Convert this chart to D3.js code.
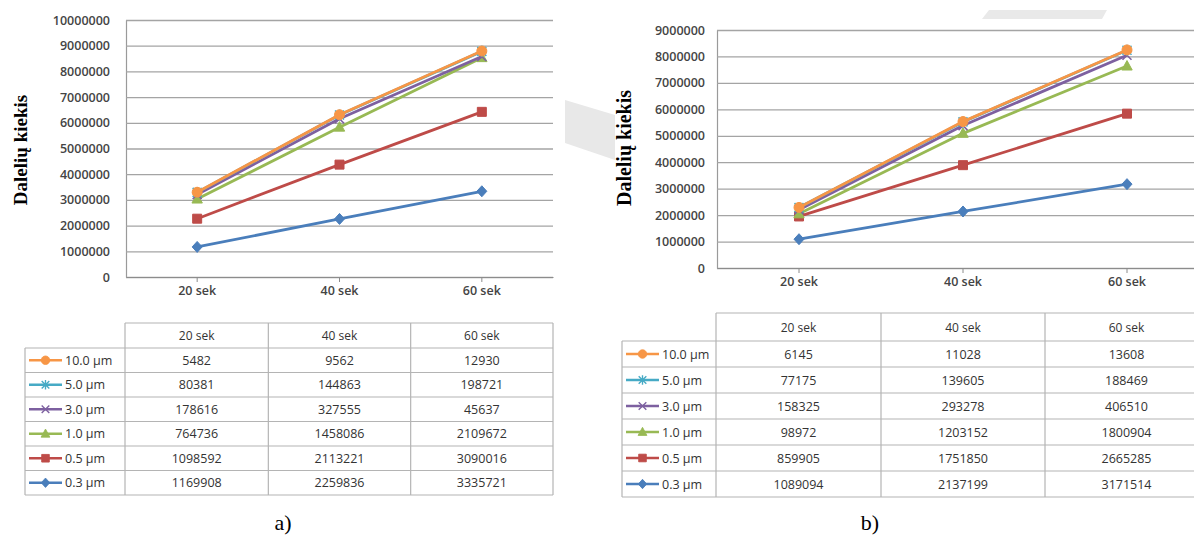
<!DOCTYPE html>
<html>
<head>
<meta charset="utf-8">
<script src="https://cdn.jsdelivr.net/npm/d3@7"></script>
<style>
  body { margin: 0; background: #fff; }
  svg { display: block; }
</style>
</head>
<body>
<script>
// categories (time) and particle sizes, bottom series first (stack order)
var categories = ["20 sek", "40 sek", "60 sek"];
var sizes = ["0.3 μm", "0.5 μm", "1.0 μm", "3.0 μm", "5.0 μm", "10.0 μm"];
var colors = ["#4a7ebb", "#be4b48", "#98b954", "#7d60a0", "#46aac5", "#f79646"];
var markers = ["diamond", "square", "triangle", "x", "star", "circle"];

// table values, one row per size (same order as sizes)
var countsA = [
    [1169908, 2259836, 3335721],
    [1098592, 2113221, 3090016],
    [764736, 1458086, 2109672],
    [178616, 327555, 45637],
    [80381, 144863, 198721],
    [5482, 9562, 12930]
];
var countsB = [
    [1089094, 2137199, 3171514],
    [859905, 1751850, 2665285],
    [98972, 1203152, 1800904],
    [158325, 293278, 406510],
    [77175, 139605, 188469],
    [6145, 11028, 13608]
];

var ticksA = [0, 1000000, 2000000, 3000000, 4000000, 5000000, 6000000, 7000000, 8000000, 9000000, 10000000];
var ticksB = [0, 1000000, 2000000, 3000000, 4000000, 5000000, 6000000, 7000000, 8000000, 9000000];

var yTitle = "Dalelių kiekis";

var width = 1194, height = 539;
var font = "'Open Sans', 'Liberation Sans', sans-serif";

var svg = d3.select("body").append("svg")
    .attr("width", width)
    .attr("height", height);

// light grey scan artefacts from the source page
svg.append("path").attr("d", "M565,100L615,115L615,160L565,143Z").attr("fill", "#e8e8e8");
svg.append("path").attr("d", "M989,10L1107,10L1102,19L982,19Z").attr("fill", "#e9e9e9");

function markerPath(type) {
    switch (type) {
        case "diamond": return "M0,-5.5L5,0L0,5.5L-5,0Z";
        case "square": return "M-4.5,-4.5H4.5V4.5H-4.5Z";
        case "triangle": return "M0,-5.5L5.2,4L-5.2,4Z";
        case "circle": return "M5,0A5,5 0 1,1 -5,0A5,5 0 1,1 5,0Z";
        case "x": return "M-4.5,-4.5L4.5,4.5M-4.5,4.5L4.5,-4.5";
        case "star": return "M-4.5,-4.5L4.5,4.5M-4.5,4.5L4.5,-4.5M0,-5.5V5.5";
    }
}

function drawMarker(g, type, color, scale) {
    var filled = type !== "x" && type !== "star";
    g.append("path")
        .attr("d", markerPath(type))
        .attr("transform", scale ? "scale(" + scale + ")" : null)
        .attr("fill", filled ? color : "none")
        .attr("stroke", color)
        .attr("stroke-width", filled ? 1 : 1.6);
}

function drawPanel(counts, ticks, cfg) {
    var p = cfg.plot;

    var x = d3.scaleBand()
        .domain(categories)
        .range([p.left, p.right]);

    var y = d3.scaleLinear()
        .domain([0, ticks[ticks.length - 1]])
        .range([p.bottom, p.top]);

    // rows for the stack: one object per time
    var rows = categories.map(function (c, i) {
        var r = { cat: c };
        sizes.forEach(function (s, j) { r[s] = counts[j][i]; });
        return r;
    });
    var stacked = d3.stack().keys(sizes)(rows);

    // y axis with gridlines
    var yAxis = svg.append("g")
        .attr("transform", "translate(" + p.left + ",0)")
        .call(d3.axisLeft(y)
            .tickValues(ticks)
            .tickFormat(d3.format("d"))
            .tickSize(-(p.right - p.left))
            .tickSizeOuter(0)
            .tickPadding(cfg.yPad));
    yAxis.select(".domain").attr("stroke", "#9a9a9a").attr("stroke-width", 1.2);
    yAxis.selectAll(".tick line").attr("stroke", "#a4a4a4").attr("stroke-width", 1.3);
    yAxis.selectAll(".tick text")
        .attr("fill", "#444")
        .style("font-family", font)
        .style("font-size", "12.5px")
        .style("font-weight", 600);

    // x axis
    var xAxis = svg.append("g")
        .attr("transform", "translate(0," + p.bottom + ")")
        .call(d3.axisBottom(x).tickSize(5).tickSizeOuter(0).tickPadding(4));
    xAxis.select(".domain").attr("stroke", "#8c8c8c").attr("stroke-width", 1.2);
    xAxis.selectAll(".tick line").attr("stroke", "#8c8c8c");
    xAxis.selectAll(".tick text")
        .attr("fill", "#444")
        .style("font-family", font)
        .style("font-size", "12.5px")
        .style("font-weight", 600);

    // axis title
    svg.append("text")
        .attr("transform", "translate(" + cfg.titleX + "," + cfg.titleY + ") rotate(-90)")
        .attr("text-anchor", "middle")
        .attr("dominant-baseline", "central")
        .style("font-family", "'Liberation Serif', 'Times New Roman', serif")
        .style("font-weight", "bold")
        .style("font-size", cfg.titleSize + "px")
        .text(yTitle);

    // stacked lines, bottom series drawn first
    var line = d3.line()
        .x(function (d) { return x(d.data.cat) + x.bandwidth() / 2; })
        .y(function (d) { return y(d[1]); });

    stacked.forEach(function (layer, j) {
        svg.append("path")
            .datum(layer)
            .attr("d", line)
            .attr("fill", "none")
            .attr("stroke", colors[j])
            .attr("stroke-width", 2.8)
            .attr("stroke-linejoin", "round");
        layer.forEach(function (d) {
            var g = svg.append("g")
                .attr("transform", "translate(" + (x(d.data.cat) + x.bandwidth() / 2) + "," + y(d[1]) + ")");
            drawMarker(g, markers[j], colors[j]);
        });
    });

    // data table under the chart
    var t = cfg.table;
    var colX = [t.legendRight].concat(categories.map(function (c) { return x(c) + x.bandwidth(); }));
    colX[colX.length - 1] = t.right;
    var nRows = sizes.length;
    var bodyTop = t.top + t.headerH;
    var bottom = bodyTop + nRows * t.rowH;
    var tg = svg.append("g")
        .attr("stroke", "#b4b4b4")
        .attr("stroke-width", 1.2)
        .attr("fill", "none");

    // header frame (no frame above the legend column)
    tg.append("line").attr("x1", t.legendRight).attr("x2", t.right).attr("y1", t.top).attr("y2", t.top);
    tg.append("line").attr("x1", t.left).attr("x2", t.right).attr("y1", bodyTop).attr("y2", bodyTop);
    d3.range(1, nRows + 1).forEach(function (i) {
        tg.append("line").attr("x1", t.left).attr("x2", t.right)
            .attr("y1", bodyTop + i * t.rowH).attr("y2", bodyTop + i * t.rowH);
    });
    tg.append("line").attr("x1", t.left).attr("x2", t.left).attr("y1", bodyTop).attr("y2", bottom);
    colX.forEach(function (cx) {
        tg.append("line").attr("x1", cx).attr("x2", cx).attr("y1", t.top).attr("y2", bottom);
    });

    // header labels
    categories.forEach(function (c, i) {
        svg.append("text")
            .attr("x", (colX[i] + colX[i + 1]) / 2)
            .attr("y", t.top + t.headerH / 2)
            .attr("text-anchor", "middle")
            .attr("dominant-baseline", "central")
            .attr("fill", "#333")
            .style("font-family", font)
            .style("font-size", "12px")
            .text(c);
    });

    // rows: largest size first
    d3.range(nRows).forEach(function (r) {
        var j = nRows - 1 - r;
        var cy = bodyTop + r * t.rowH + t.rowH / 2;
        var lx = t.left + 4;
        svg.append("line")
            .attr("x1", lx).attr("x2", lx + 33)
            .attr("y1", cy).attr("y2", cy)
            .attr("stroke", colors[j])
            .attr("stroke-width", 2.4);
        var g = svg.append("g").attr("transform", "translate(" + (lx + 16.5) + "," + cy + ")");
        drawMarker(g, markers[j], colors[j], 0.85);
        svg.append("text")
            .attr("x", lx + 36)
            .attr("y", cy)
            .attr("dominant-baseline", "central")
            .attr("fill", "#333")
            .style("font-family", font)
            .style("font-size", "12.5px")
            .text(sizes[j]);
        categories.forEach(function (c, i) {
            svg.append("text")
                .attr("x", (colX[i] + colX[i + 1]) / 2)
                .attr("y", cy)
                .attr("text-anchor", "middle")
                .attr("dominant-baseline", "central")
                .attr("fill", "#333")
                .style("font-family", font)
                .style("font-size", "12.5px")
                .text(counts[j][i]);
        });
    });

    // caption
    svg.append("text")
        .attr("x", cfg.caption.x)
        .attr("y", cfg.caption.y)
        .attr("text-anchor", "middle")
        .style("font-family", "'Liberation Serif', 'Times New Roman', serif")
        .style("font-size", "22px")
        .text(cfg.caption.text);
}

drawPanel(countsA, ticksA, {
    plot: { left: 126, right: 553, top: 20, bottom: 277 },
    yPad: 16,
    titleX: 20, titleY: 150, titleSize: 19,
    table: { left: 25, legendRight: 125, right: 553, top: 323, headerH: 25, rowH: 24.5 },
    caption: { x: 283, y: 530, text: "a)" }
});

drawPanel(countsB, ticksB, {
    plot: { left: 717, right: 1209, top: 30, bottom: 268 },
    yPad: 12,
    titleX: 624, titleY: 148, titleSize: 20,
    table: { left: 622, legendRight: 716, right: 1208, top: 313, headerH: 28, rowH: 26 },
    caption: { x: 870, y: 530, text: "b)" }
});
</script>
</body>
</html>
